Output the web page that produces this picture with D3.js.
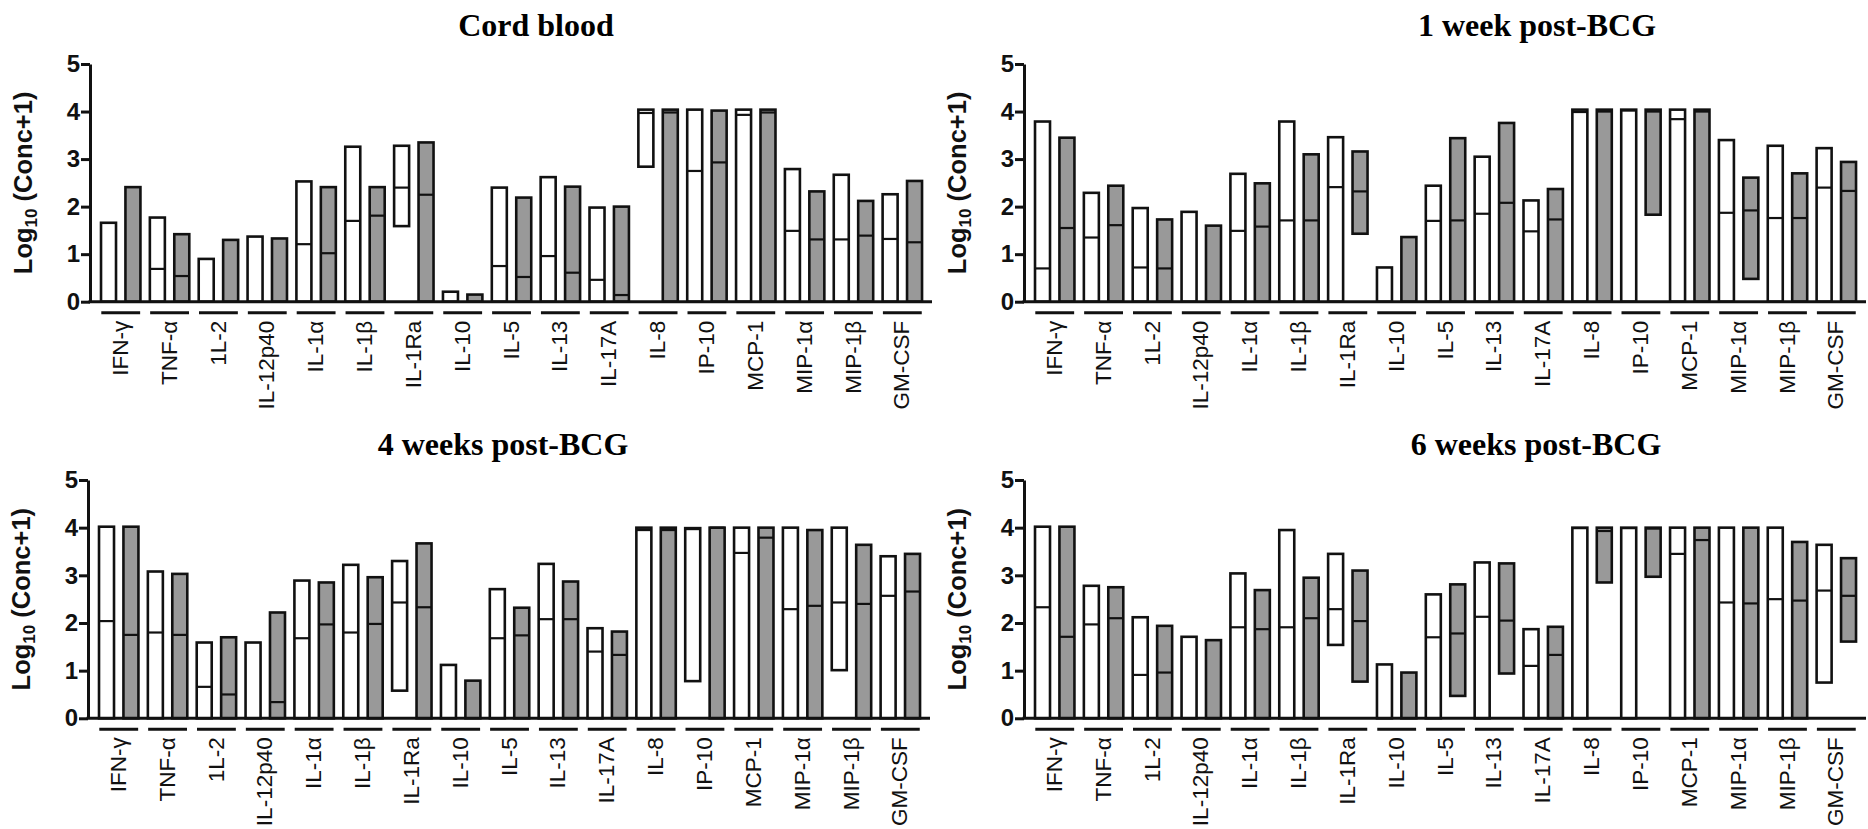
<!DOCTYPE html>
<html><head><meta charset="utf-8">
<script src="https://cdn.jsdelivr.net/npm/d3@7"></script>
<style>body{margin:0;background:#fff}</style>
</head><body>
<svg id="chart" width="1868" height="829"></svg>
<script>
// ---------- data ----------
const categories = ["IFN-γ","TNF-α","1L-2","IL-12p40","IL-1α","IL-1β","IL-1Ra","IL-10","IL-5","IL-13","IL-17A","IL-8","IP-10","MCP-1","MIP-1α","MIP-1β","GM-CSF"];
const yTicks = [0,1,2,3,4,5];
const panelTitles = ["Cord blood","1 week post-BCG","4 weeks post-BCG","6 weeks post-BCG"];
const seriesNames = ["open","filled"];

// each entry: [min, median, max] of log10(conc+1)
const cordOpen = [[0,0,1.66],[0,0.69,1.77],[0,0,0.90],[0,0,1.37],[0,1.21,2.53],[0,1.70,3.26],[1.59,2.40,3.28],[0,0,0.21],[0,0.75,2.40],[0,0.96,2.62],[0,0.46,1.98],[2.84,3.97,4.04],[0,2.75,4.04],[0,3.93,4.04],[0,1.49,2.79],[0,1.31,2.67],[0,1.32,2.26]];
const cordFilled = [[0,0,2.41],[0,0.54,1.42],[0,0,1.30],[0,0,1.33],[0,1.02,2.41],[0,1.81,2.41],[0,2.25,3.35],[0,0,0.15],[0,0.52,2.19],[0,0.61,2.42],[0,0.14,2.00],[0,3.98,4.04],[0,2.93,4.02],[0,3.98,4.04],[0,1.31,2.32],[0,1.39,2.12],[0,1.25,2.54]];
const wk1Open = [[0,0.70,3.79],[0,1.35,2.29],[0,0.72,1.97],[0,0,1.89],[0,1.49,2.69],[0,1.71,3.79],[0,2.41,3.46],[0,0,0.72],[0,1.70,2.44],[0,1.85,3.05],[0,1.48,2.13],[0,3.99,4.04],[0,4.02,4.04],[0,3.84,4.04],[0,1.87,3.40],[0,1.76,3.28],[0,2.40,3.23]];
const wk1Filled = [[0,1.55,3.45],[0,1.61,2.44],[0,0.70,1.73],[0,0,1.60],[0,1.58,2.49],[0,1.71,3.10],[1.43,2.32,3.16],[0,0,1.36],[0,1.71,3.44],[0,2.08,3.76],[0,1.73,2.37],[0,4.00,4.04],[1.83,4.00,4.04],[0,4.00,4.04],[0.48,1.92,2.61],[0,1.76,2.70],[0,2.33,2.94]];
const wk4Open = [[0,2.04,4.02],[0,1.80,3.08],[0,0.66,1.59],[0,0,1.59],[0,1.68,2.89],[0,1.80,3.22],[0.58,2.43,3.30],[0,0,1.12],[0,1.68,2.71],[0,2.08,3.24],[0,1.40,1.89],[0,3.95,4.00],[0.78,3.97,3.99],[0,3.47,4.00],[0,2.29,4.00],[1.01,2.43,4.00],[0,2.57,3.40]];
const wk4Filled = [[0,1.75,4.02],[0,1.75,3.03],[0,0.50,1.70],[0,0.34,2.22],[0,1.97,2.85],[0,1.98,2.96],[0,2.33,3.67],[0,0,0.79],[0,1.74,2.32],[0,2.08,2.87],[0,1.33,1.82],[0,3.95,4.00],[0,4.00,4.00],[0,3.79,4.00],[0,2.36,3.95],[0,2.40,3.64],[0,2.66,3.45]];
const wk6Open = [[0,2.33,4.02],[0,1.97,2.78],[0,0.91,2.12],[0,0,1.71],[0,1.91,3.04],[0,1.91,3.95],[1.54,2.29,3.45],[0,0,1.13],[0,1.70,2.60],[0,2.13,3.27],[0,1.10,1.87],[0,3.99,4.00],[0,3.99,4.00],[0,3.45,4.00],[0,2.43,4.00],[0,2.50,4.00],[0.75,2.68,3.64]];
const wk6Filled = [[0,1.71,4.02],[0,2.10,2.75],[0,0.96,1.94],[0,0,1.64],[0,1.87,2.69],[0,2.10,2.95],[0.77,2.04,3.10],[0,0,0.96],[0.47,1.78,2.81],[0.94,2.05,3.25],[0,1.33,1.92],[2.85,3.93,4.00],[2.97,3.98,4.00],[0,3.74,4.00],[0,2.41,4.00],[0,2.47,3.70],[1.61,2.57,3.36]];

// ---------- layout ----------
const seriesFill = {open:"#ffffff", filled:"#999999"};
const panels = [
  {title:panelTitles[0], data:{open:cordOpen, filled:cordFilled}, ox:90,   y0:301.7, y5:64,  tx:536,  ty:36},
  {title:panelTitles[1], data:{open:wk1Open,  filled:wk1Filled},  ox:1024, y0:301.7, y5:64,  tx:1537, ty:36},
  {title:panelTitles[2], data:{open:wk4Open,  filled:wk4Filled},  ox:88,   y0:718.3, y5:480, tx:503,  ty:455},
  {title:panelTitles[3], data:{open:wk6Open,  filled:wk6Filled},  ox:1024, y0:718.3, y5:480, tx:1536, ty:455}
];

const svg = d3.select("#chart");
const sans = "'Liberation Sans', Arial, sans-serif";
const serif = "'Liberation Serif', 'Times New Roman', serif";

panels.forEach(p => {
  const g = svg.append("g");
  const y = d3.scaleLinear().domain([0,5]).range([p.y0, p.y5]);
  const x = d3.scaleBand().domain(categories).range([p.ox + 6.3, p.ox + 6.3 + categories.length * 48.85]).padding(0);
  const sub = d3.scaleBand().domain(seriesNames).range([0, x.bandwidth()]).padding(0);
  const barW = 15;

  // title
  g.append("text").attr("x", p.tx).attr("y", p.ty).attr("text-anchor","middle")
    .style("font-family", serif).style("font-weight","bold").style("font-size","32px")
    .text(p.title);

  // bars
  seriesNames.forEach(s => {
    const sg = g.append("g");
    const rows = categories.map((c,i) => ({c, min:p.data[s][i][0], med:p.data[s][i][1], max:p.data[s][i][2]}));
    sg.selectAll("rect").data(rows).join("rect")
      .attr("x", d => x(d.c) + sub(s) + (sub.bandwidth() - barW) / 2)
      .attr("width", barW)
      .attr("y", d => y(d.max))
      .attr("height", d => y(d.min) - y(d.max))
      .attr("fill", seriesFill[s]).attr("stroke","#111").attr("stroke-width",2.6);
    sg.selectAll("line.med").data(rows.filter(d => d.med > d.min)).join("line").attr("class","med")
      .attr("x1", d => x(d.c) + sub(s) + (sub.bandwidth() - barW) / 2)
      .attr("x2", d => x(d.c) + sub(s) + (sub.bandwidth() + barW) / 2)
      .attr("y1", d => y(d.med)).attr("y2", d => y(d.med))
      .attr("stroke","#111").attr("stroke-width",2.2);
  });

  // y axis
  const ya = g.append("g").attr("transform", `translate(${p.ox},0)`)
    .call(d3.axisLeft(y).tickValues(yTicks).tickSize(9).tickSizeOuter(0).tickPadding(1).tickFormat(d3.format("d")));
  ya.select(".domain").attr("stroke","#111").attr("stroke-width",3);
  ya.selectAll(".tick line").attr("stroke","#111").attr("stroke-width",3);
  ya.selectAll(".tick text").style("font-family", sans).style("font-weight","bold").style("font-size","24px").attr("fill","#111");

  // y label
  const yl = g.append("text")
    .attr("transform", `translate(${p.ox - 58},${(p.y0 + p.y5) / 2}) rotate(-90)`)
    .attr("text-anchor","middle")
    .style("font-family", sans).style("font-weight","bold").style("font-size","25.5px").attr("fill","#111");
  yl.append("tspan").text("Log");
  yl.append("tspan").attr("baseline-shift","-28%").style("font-size","17px").text("10");
  yl.append("tspan").text(" (Conc+1)");

  // x axis baseline
  g.append("line").attr("x1", p.ox - 1.5).attr("x2", p.ox + 842).attr("y1", p.y0).attr("y2", p.y0)
    .attr("stroke","#111").attr("stroke-width",3);

  // category underlines
  g.selectAll("line.grp").data(categories).join("line").attr("class","grp")
    .attr("x1", c => x(c) + 5).attr("x2", c => x(c) + x.bandwidth() - 5)
    .attr("y1", p.y0 + 11).attr("y2", p.y0 + 11)
    .attr("stroke","#111").attr("stroke-width",3);

  // category labels
  g.selectAll("text.cat").data(categories).join("text").attr("class","cat")
    .attr("transform", c => `translate(${x(c) + x.bandwidth() / 2 - 1},${p.y0 + 19}) rotate(-90)`)
    .attr("text-anchor","end").attr("dy","0.36em")
    .style("font-family", sans).style("font-size","22.5px").attr("fill","#111")
    .text(c => c);
});
</script>
</body></html>
